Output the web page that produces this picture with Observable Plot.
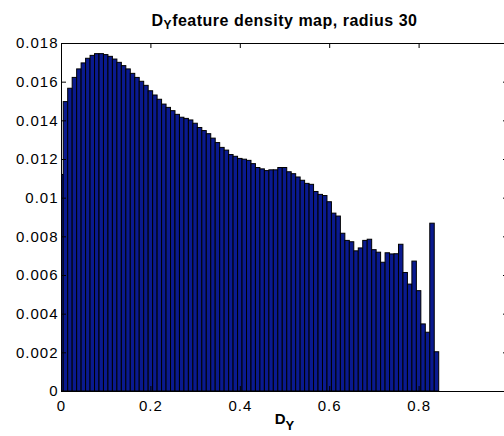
<!DOCTYPE html>
<html><head><meta charset="utf-8">
<script src="https://cdn.jsdelivr.net/npm/d3@7"></script>
<script src="https://cdn.jsdelivr.net/npm/@observablehq/plot@0.6"></script>
<style>
html,body{margin:0;padding:0;overflow:hidden;background:#fff;width:504px;height:436px}
#title{width:510px;height:30px;box-sizing:border-box;padding:13px 2px 0 61px;text-align:center;font:bold 16px "Liberation Sans",Arial,sans-serif;line-height:16px;letter-spacing:0.5px;color:#000;white-space:nowrap}
#title sub{font-size:12px;vertical-align:-3px;line-height:0}
#chart{width:510px;height:406px}
</style></head><body>
<div id="title">D<sub>Y</sub>feature density map, radius 30</div>
<div id="chart"></div>
<script>
const binWidth = 0.01;
const density = [
  0.0112, 0.01497, 0.01566, 0.01622, 0.01666, 0.01697, 0.01721, 0.01736, 0.01745, 0.01745,
  0.0174, 0.01731, 0.01717, 0.0170, 0.01683, 0.01666, 0.01643, 0.01622, 0.01602, 0.01581,
  0.01553, 0.01531, 0.01509, 0.01484, 0.01467, 0.0145, 0.01431, 0.01416, 0.0141, 0.01402,
  0.01385, 0.01363, 0.01347, 0.01331, 0.01308, 0.01285, 0.0126, 0.01246, 0.01223, 0.01214,
  0.01203, 0.01199, 0.01193, 0.01176, 0.01156, 0.01149, 0.0114, 0.01144, 0.01144, 0.01156,
  0.01156, 0.01134, 0.01124, 0.01107, 0.0109, 0.01074, 0.01069, 0.01032, 0.01017, 0.01011,
  0.00979, 0.0092, 0.00905, 0.00816, 0.00779, 0.00772, 0.00725, 0.0074, 0.00779, 0.00785,
  0.00731, 0.00718, 0.00666, 0.00715, 0.00709, 0.0071, 0.00759, 0.00613, 0.00553, 0.00672,
  0.00519, 0.00347, 0.00304, 0.00868, 0.00203
];
const xTicks = [0, 0.2, 0.4, 0.6, 0.8];
const xTickLabels = ["0", "0.2", "0.4", "0.6", "0.8"];
const yTicks = [0, 0.002, 0.004, 0.006, 0.008, 0.01, 0.012, 0.014, 0.016, 0.018];
const yTickLabels = ["0", "0.002", "0.004", "0.006", "0.008", "0.01", "0.012", "0.014", "0.016", "0.018"];

const bins = density.map((v, i) => ({c: +(i * binWidth).toFixed(2), v}));
const xLabelMap = new Map(xTicks.map((t, i) => [t, xTickLabels[i]]));
const yLabelMap = new Map(yTicks.map((t, i) => [t, yTickLabels[i]]));

const W = 510, H = 406, mT = 13, mB = 45, mL = 61, mR = 2;
const innerW = W - mL - mR, innerH = H - mT - mB;

const svg = Plot.plot({
  width: W, height: H,
  marginTop: mT, marginBottom: mB, marginLeft: mL, marginRight: mR,
  style: {fontFamily: "'Liberation Sans', Arial, sans-serif", fontSize: "15px", color: "#000", background: "#fff", letterSpacing: "1px"},
  x: {domain: [0, 1]},
  y: {domain: [0, 0.018]},
  marks: [
    Plot.rect(bins, {x1: d => d.c - binWidth / 2, x2: d => d.c + binWidth / 2, y1: 0, y2: "v",
      fill: "#0a1a8f", stroke: "#000", strokeWidth: 1, clip: true}),
    Plot.frame({stroke: "#000"}),
    Plot.tickX(xTicks, {x: d => d, insetTop: innerH - 5, stroke: "#000"}),
    Plot.tickX(xTicks, {x: d => d, insetBottom: innerH - 5, stroke: "#000"}),
    Plot.tickY(yTicks, {y: d => d, insetRight: innerW - 5, stroke: "#000"}),
    Plot.tickY(yTicks, {y: d => d, insetLeft: innerW - 5, stroke: "#000"}),
    Plot.axisX(xTicks, {tickSize: 0, tickPadding: 9, tickFormat: d => xLabelMap.get(d), label: null}),
    Plot.axisY(yTicks, {tickSize: 0, tickPadding: 3, tickFormat: d => yLabelMap.get(d), label: null})
  ]
});
document.getElementById("chart").appendChild(svg);

const xs = svg.scale("x");
const lab = d3.select(svg).append("text")
  .attr("x", xs.apply(0.5))
  .attr("y", H - 12)
  .attr("text-anchor", "middle")
  .attr("font-weight", "bold")
  .attr("font-size", 15)
  .style("letter-spacing", "0px")
  .attr("fill", "#000");
lab.append("tspan").text("D");
lab.append("tspan").attr("font-size", 13).attr("dy", 6).text("Y");
</script>
</body></html>
